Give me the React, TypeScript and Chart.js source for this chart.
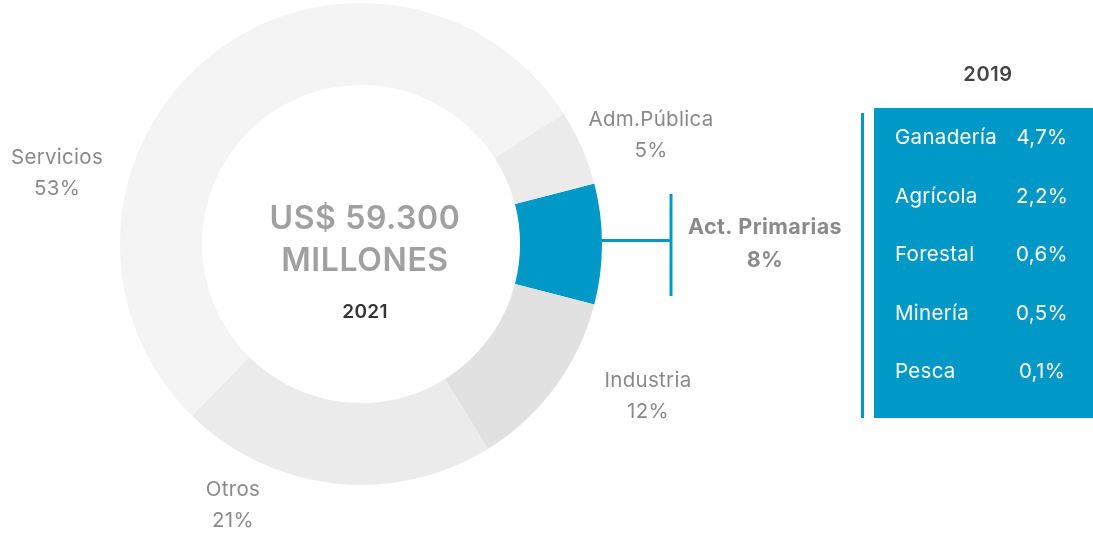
import React, { useEffect, useRef } from "react";
import { Chart, registerables } from "chart.js";

Chart.register(...registerables);

const categories = ["Act. Primarias", "Industria", "Otros", "Servicios", "Adm.Pública"];
const shares = [8, 12, 21, 53, 5];
const sliceColors = ["#0098c6", "#e1e1e1", "#ebebeb", "#f4f4f4", "#ebebeb"];

const subYear = "2019";
const subCategories = ["Ganadería", "Agrícola", "Forestal", "Minería", "Pesca"];
const subValues = [4.7, 2.2, 0.6, 0.5, 0.1];

const totalTitle = ["US$ 59.300", "MILLONES"];
const mainYear = "2021";

const W = 1093;
const H = 533;
const FONT = "Inter, 'Noto Sans', sans-serif";
const BLUE = "#0098c6";

const fmt = (v: number) => v.toFixed(1).replace(".", ",") + "%";

export default function App() {
  const ref = useRef<HTMLCanvasElement | null>(null);

  useEffect(() => {
    if (!ref.current) return;
    const total = shares.reduce((a, b) => a + b, 0);
    const firstAngle = (shares[0] / total) * 360;

    const overlay = {
      id: "overlay",
      afterDatasetsDraw(chart: any) {
        const ctx = chart.ctx as CanvasRenderingContext2D;
        const meta = chart.getDatasetMeta(0);
        const arc0 = meta.data[0] as any;
        const cx = arc0.x;
        const cy = arc0.y;
        const outer = arc0.outerRadius;
        ctx.save();
        ctx.textAlign = "center";
        ctx.textBaseline = "middle";
        const setSpacing = (s: string) => {
          (ctx as any).letterSpacing = s;
        };

        // center text
        ctx.fillStyle = "#a0a0a0";
        ctx.font = `600 32px ${FONT}`;
        setSpacing("0.6px");
        ctx.fillText(totalTitle[0], 365, 219);
        ctx.fillText(totalTitle[1], 365, 261);
        ctx.fillStyle = "#333333";
        ctx.font = `600 19px ${FONT}`;
        setSpacing("0.3px");
        ctx.fillText(mainYear, 365, 312);

        // outer labels
        const pos: Record<string, [number, number]> = {
          "Industria": [648, 381],
          "Otros": [233, 490],
          "Servicios": [57, 158],
          "Adm.Pública": [651, 120],
        };
        ctx.fillStyle = "#8a8a8a";
        ctx.font = `400 20.5px ${FONT}`;
        setSpacing("0.3px");
        categories.forEach((c, i) => {
          const p = pos[c];
          if (!p) return;
          ctx.fillText(c, p[0], p[1]);
          ctx.fillText(shares[i] + "%", p[0], p[1] + 31);
        });

        // connector for Act. Primarias
        ctx.strokeStyle = BLUE;
        ctx.lineWidth = 3;
        ctx.beginPath();
        ctx.moveTo(cx + outer - 1, 240.5);
        ctx.lineTo(672, 240.5);
        ctx.stroke();
        ctx.beginPath();
        ctx.moveTo(671, 194);
        ctx.lineTo(671, 296);
        ctx.stroke();

        ctx.fillStyle = "#8a8a8a";
        ctx.font = `700 21.5px ${FONT}`;
        setSpacing("0.4px");
        ctx.fillText(categories[0], 765, 228);
        ctx.fillText(shares[0] + "%", 765, 261);

        // breakdown box
        ctx.fillStyle = "#444444";
        ctx.font = `600 20px ${FONT}`;
        setSpacing("0.6px");
        ctx.fillText(subYear, 988, 75);

        ctx.strokeStyle = BLUE;
        ctx.lineWidth = 3;
        ctx.beginPath();
        ctx.moveTo(862.5, 113);
        ctx.lineTo(862.5, 418);
        ctx.stroke();

        ctx.fillStyle = BLUE;
        ctx.fillRect(874, 108, 219, 310);

        ctx.fillStyle = "#ffffff";
        ctx.font = `400 20.5px ${FONT}`;
        setSpacing("0.3px");
        subCategories.forEach((c, i) => {
          const y = 138 + i * 58.5;
          ctx.textAlign = "left";
          ctx.fillText(c, 895, y);
          ctx.textAlign = "center";
          ctx.fillText(fmt(subValues[i]), 1042, y);
        });
        ctx.restore();
      },
    };

    const chart = new Chart(ref.current, {
      type: "doughnut",
      data: {
        labels: categories,
        datasets: [
          {
            data: shares,
            backgroundColor: sliceColors,
            borderWidth: 0,
            hoverOffset: 0,
          },
        ],
      },
      options: {
        responsive: false,
        animation: false,
        rotation: 90 - firstAngle / 2,
        cutout: "66%",
        layout: { padding: { left: 120, right: W - 602, top: 3, bottom: H - 485 } },
        plugins: { legend: { display: false }, tooltip: { enabled: false } },
        events: [],
      },
      plugins: [overlay],
    });
    return () => chart.destroy();
  }, []);

  return (
    <div style={{ position: "absolute", left: 0, top: 0, width: W, height: H, background: "#ffffff" }}>
      <canvas ref={ref} width={W} height={H} style={{ width: W, height: H, display: "block" }} />
    </div>
  );
}
